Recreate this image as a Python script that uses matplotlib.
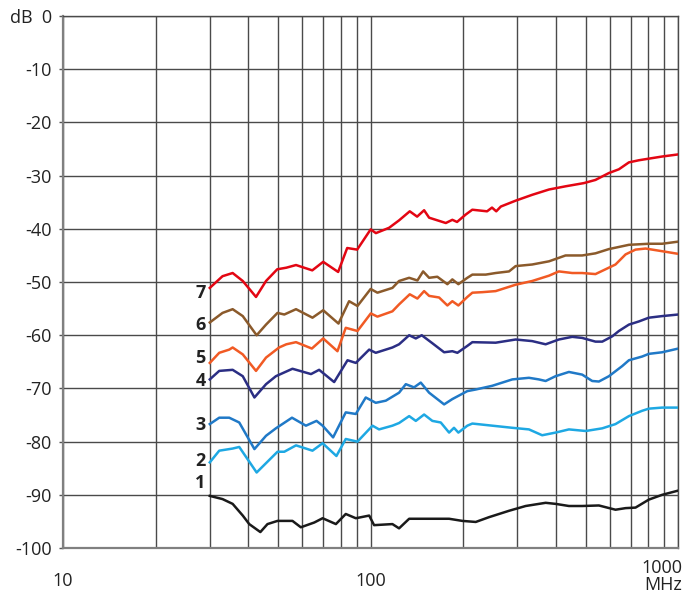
import matplotlib
matplotlib.use('Agg')
import matplotlib.pyplot as plt
from matplotlib.ticker import FixedLocator, NullFormatter

plt.rcParams['font.family'] = ['Open Sans', 'DejaVu Sans']

# 曲线数据 (频率 MHz, 电平 dB)
f7 = [30, 33, 35.6, 38.4, 42.4, 45.7, 49.7, 53.2, 57.2, 64.6, 70.1, 78.4, 83.9, 90.4, 100, 104,
      114.8, 123.7, 134, 141.6, 149.2, 154.9, 175.5, 184.3, 190.9, 203.8, 214, 239, 248, 256,
      265, 296, 335, 380, 430, 493, 538, 595, 641, 691, 745, 802, 886, 1000]
v7 = [-51.1, -48.9, -48.3, -49.8, -52.8, -49.8, -47.6, -47.3, -46.8, -47.8, -46.2, -48.1, -43.6,
      -43.9, -40.1, -40.8, -39.8, -38.4, -36.7, -37.7, -36.5, -37.9, -38.9, -38.3, -38.7, -37.3,
      -36.4, -36.7, -36.0, -36.7, -35.8, -34.7, -33.6, -32.6, -32.0, -31.4, -30.8, -29.5, -28.8,
      -27.5, -27.1, -26.8, -26.4, -26.0]

f6 = [30, 33, 35.6, 38.4, 42.6, 45.7, 49.8, 52.4, 57.2, 64.7, 70.1, 78.6, 85.1, 90.6, 100, 105.2,
      117.7, 123.7, 133.4, 141.9, 148.1, 154.9, 164.7, 177.6, 184.3, 192.8, 206.2, 214.1, 236.6,
      254.9, 281.7, 296, 335, 380, 430, 487, 538, 595, 691, 802, 886, 1000]
v6 = [-57.6, -55.8, -55.1, -56.4, -60.0, -58.0, -55.8, -56.1, -55.1, -56.7, -55.3, -57.8, -53.6,
      -54.5, -51.3, -52.0, -51.1, -49.8, -49.2, -49.7, -48.0, -49.2, -49.0, -50.4, -49.5, -50.4,
      -49.2, -48.6, -48.6, -48.3, -48.0, -47.0, -46.7, -46.1, -45.0, -45.0, -44.6, -43.8, -43.0,
      -42.8, -42.8, -42.4]

f5 = [30, 32.2, 34.7, 35.6, 38.4, 42.4, 45.7, 50.4, 53.2, 57.2, 64.4, 70.1, 78.0, 83.0, 90.6,
      100.1, 105.2, 117.7, 123.7, 134.0, 141.9, 149.2, 154.9, 166.9, 177.6, 184.3, 192.8, 206.2,
      214.1, 230.7, 254.9, 296, 335, 380, 409, 452, 487, 538, 580, 625, 674, 726, 783, 886, 1000]
v5 = [-65.2, -63.3, -62.7, -62.3, -63.6, -66.7, -64.2, -62.3, -61.7, -61.3, -62.5, -60.6, -63.0,
      -58.6, -59.2, -55.9, -56.5, -55.5, -54.2, -52.3, -53.1, -51.7, -52.6, -52.9, -54.4, -53.6,
      -54.4, -52.8, -52.0, -51.9, -51.7, -50.5, -49.8, -48.8, -48.0, -48.3, -48.3, -48.5, -47.6,
      -46.7, -44.8, -43.9, -43.7, -44.2, -44.7]

f4 = [30, 32.2, 35.6, 38.4, 41.9, 45.7, 49.2, 55.7, 64.0, 68.0, 76.1, 84.1, 89.5, 98.9, 103.9,
      117.7, 123.7, 133.4, 140.2, 146.6, 158.7, 173.3, 184.3, 191.4, 206.2, 214.1, 254.9, 296,
      335, 370.5, 409, 452, 487, 538, 566, 610, 641, 691, 745, 802, 886, 1000]
v4 = [-68.3, -66.7, -66.5, -67.7, -71.7, -69.2, -67.7, -66.3, -67.3, -66.5, -68.8, -64.7, -65.2,
      -62.7, -63.3, -62.3, -61.7, -60.0, -60.6, -60.0, -61.5, -63.2, -63.0, -63.3, -62.0, -61.3,
      -61.4, -60.8, -61.1, -61.7, -60.8, -60.3, -60.5, -61.2, -61.2, -60.2, -59.2, -58.0, -57.4,
      -56.7, -56.4, -56.1]

f3 = [30, 32.2, 34.7, 37.4, 41.9, 45.7, 49.2, 55.5, 61.6, 66.7, 69.8, 75.5, 83.0, 89.5, 96.4,
      103.9, 112.0, 123.7, 130.1, 138.4, 145.5, 154.9, 173.3, 184.3, 206.2, 219.6, 248.5, 288.7,
      327, 352, 370.5, 399, 441, 487, 525, 552, 595, 657, 691, 763, 802, 886, 1000]
v3 = [-76.7, -75.5, -75.5, -76.4, -81.4, -78.9, -77.5, -75.5, -77.0, -76.1, -77.0, -79.2, -74.5,
      -74.8, -71.7, -72.7, -72.3, -70.8, -69.2, -69.8, -68.9, -70.8, -73.0, -72.0, -70.5, -70.2,
      -69.5, -68.3, -68.0, -68.3, -68.6, -67.7, -66.9, -67.4, -68.6, -68.7, -67.7, -65.8, -64.7,
      -64.0, -63.5, -63.2, -62.5]

f2 = [30, 32.2, 35.6, 37.4, 42.6, 49.8, 52.4, 57.2, 64.7, 69.8, 77.4, 83.0, 90.6, 101.4, 106.5,
      117.7, 123.7, 133.4, 140.2, 149.2, 158.7, 169.0, 179.9, 186.6, 192.8, 206.2, 214.1, 248.5,
      288.7, 327, 361, 399, 441, 500, 566, 625, 691, 763, 802, 886, 1000]
v2 = [-83.9, -81.7, -81.3, -81.0, -85.8, -81.9, -81.9, -80.7, -81.7, -80.3, -82.7, -79.5, -80.0,
      -77.0, -77.7, -77.0, -76.5, -75.2, -76.1, -74.9, -76.1, -76.4, -78.3, -77.4, -78.3, -77.0,
      -76.6, -77.0, -77.4, -77.7, -78.8, -78.3, -77.7, -78.0, -77.5, -76.7, -75.2, -74.2, -73.8,
      -73.6, -73.6]

f1 = [30, 33.0, 35.6, 38.4, 40.3, 43.8, 46.2, 49.8, 55.7, 59.3, 65.6, 69.8, 77.1, 83.0, 89.5,
      98.9, 102.6, 117.7, 123.7, 133.4, 143.7, 158.7, 179.9, 198.6, 219.6, 242.5, 281.7, 319,
      370.5, 399, 441, 487, 552, 625, 674, 726, 802, 886, 1000]
v1 = [-90.2, -90.8, -91.7, -93.9, -95.5, -97.0, -95.5, -94.9, -94.9, -96.1, -95.2, -94.4, -95.5,
      -93.6, -94.4, -93.9, -95.7, -95.5, -96.3, -94.5, -94.5, -94.5, -94.5, -94.9, -95.1, -94.2,
      -93.0, -92.1, -91.5, -91.7, -92.1, -92.1, -92.0, -92.8, -92.5, -92.4, -90.9, -90.0, -89.2]

curve_names = ['1', '2', '3', '4', '5', '6', '7']
label_y = [-87.8, -83.6, -76.9, -68.6, -64.3, -58.1, -52.0]
colors = ['#1a1a1a', '#1ea8e3', '#2079c7', '#2b2e84', '#f15a24', '#8b5a2b', '#e30613']

y_ticks = list(range(0, -101, -10))
y_labels = ['dB  0'] + [str(v) for v in y_ticks[1:]]
x_grid = [20, 30, 40, 50, 60, 70, 80, 90, 200, 300, 400, 500, 600, 700, 800, 900]

fig = plt.figure(figsize=(7, 5.96), dpi=100)
ax = fig.add_axes([0.09, 0.0805, 0.879, 0.8925])

freqs = [f1, f2, f3, f4, f5, f6, f7]
vals = [v1, v2, v3, v4, v5, v6, v7]
for f, v, c in zip(freqs, vals, colors):
    ax.plot(f, v, color=c, lw=1.8, zorder=3, solid_joinstyle='round')

ax.set_xscale('log')
ax.set_xlim(10, 1000)
ax.set_ylim(-100, 0)

ax.xaxis.set_major_locator(FixedLocator([10, 100, 1000]))
ax.xaxis.set_minor_locator(FixedLocator(x_grid))
ax.xaxis.set_minor_formatter(NullFormatter())
ax.set_xticklabels(['10', '100', ''])
ax.set_yticks(y_ticks)
ax.set_yticklabels(y_labels)

ax.grid(True, which='both', color='#4a4a4a', lw=1.0, zorder=1)
ax.tick_params(axis='x', which='both', length=0, pad=17, labelsize=13, colors='#222222')
ax.tick_params(axis='y', length=3, width=1, color='#555555', pad=5, labelsize=13,
               labelcolor='#222222')

for s in ['left', 'bottom']:
    ax.spines[s].set_color('#808080')
    ax.spines[s].set_linewidth(1.6)
for s in ['top', 'right']:
    ax.spines[s].set_color('#4a4a4a')
    ax.spines[s].set_linewidth(1.0)

# 曲线编号
for name, y in zip(curve_names, label_y):
    ax.text(28, y, name, ha='center', va='center', fontsize=13, fontweight='bold',
            color='#222222')

# 右下角 1000 / MHz
ax.annotate('1000', xy=(1000, -100), xytext=(4, -25), textcoords='offset pixels',
            ha='right', va='baseline', fontsize=13, color='#222222', annotation_clip=False)
ax.annotate('MHz', xy=(1000, -100), xytext=(4, -42), textcoords='offset pixels',
            ha='right', va='baseline', fontsize=13, color='#222222', annotation_clip=False)

fig.savefig('out.png', dpi=100)
